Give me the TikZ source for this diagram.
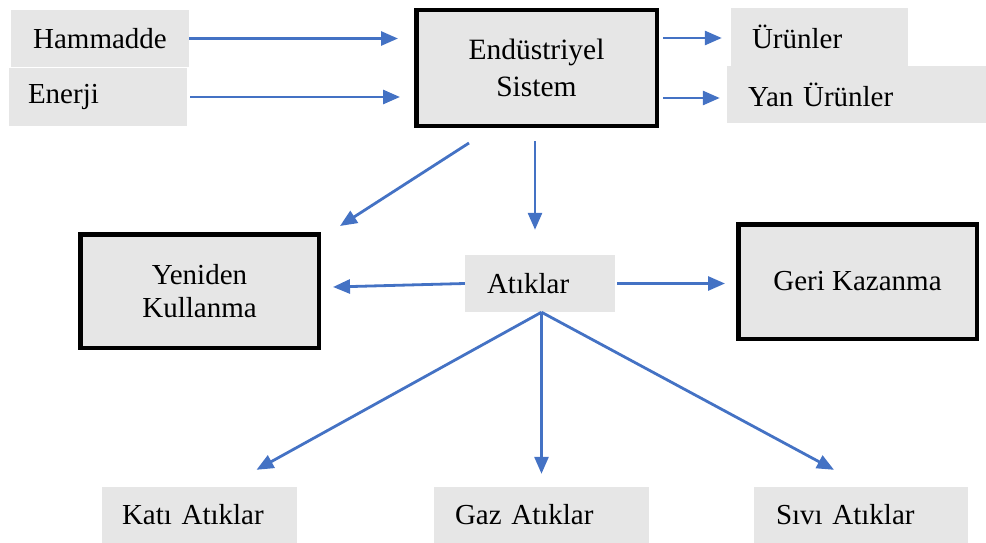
\documentclass[tikz,border=0pt]{standalone}
\usepackage{fontspec}
\setmainfont{Liberation Serif}
\usetikzlibrary{arrows.meta,calc}
\definecolor{boxgray}{RGB}{230,230,230}
\definecolor{arrblue}{RGB}{68,114,196}
\begin{document}
\begin{tikzpicture}[x=1pt,y=-1pt,
  font=\fontsize{29}{33}\selectfont,
  plainbox/.style={fill=boxgray,draw=none,inner sep=0pt,inner xsep=21pt,align=left,anchor=center},
  thickbox/.style={fill=boxgray,draw=black,line width=4.5pt,inner sep=0pt,align=center,anchor=center},
  arr/.style={draw=arrblue,line width=2.8pt,-{Triangle[length=17pt,width=14pt]}}
]
\useasboundingbox (0,0) rectangle (986,543);
% plain boxes
\node[plainbox,text width=136pt,minimum height=57pt,align=center] (ham) at (100,38.5) {Hammadde};
\node[plainbox,inner xsep=19pt,text width=140pt,minimum height=58pt] (ene) at (98,97) {Enerji};
\node[plainbox,text width=135pt,minimum height=58pt] (urun) at (819.5,37) {Ürünler};
\node[plainbox,text width=217pt,minimum height=57pt] (yan) at (856.5,94.5) {Yan Ürünler};
\node[plainbox,inner xsep=22pt,text width=106pt,minimum height=57pt] (atik) at (540,283.5) {Atıklar};
\node[plainbox,inner xsep=20pt,text width=155pt,minimum height=56pt] (kat) at (199.5,515) {Katı Atıklar};
\node[plainbox,text width=173pt,minimum height=56pt] (gaz) at (541.5,515) {Gaz Atıklar};
\node[plainbox,inner xsep=22pt,text width=170pt,minimum height=56pt] (siv) at (861,515) {Sıvı Atıklar};
% thick boxes
\node[thickbox,minimum width=240.5pt,minimum height=115.5pt,font=\fontsize{29.5}{37}\selectfont] (end) at (536.5,68) {Endüstriyel\\Sistem};
\node[thickbox,minimum width=238.5pt,minimum height=113.5pt] (yen) at (199.5,291) {Yeniden\\Kullanma};
\node[thickbox,minimum width=238.5pt,minimum height=114.5pt] (geri) at (857.5,281.5) {Geri Kazanma};
% connectors
\draw[arr,shorten >=16pt] (ham.east) -- (ham.east -| end.west);
\draw[arr,shorten <=3pt,shorten >=14pt] (ene.east) -- (ene.east -| end.west);
\draw[arr,shorten <=4pt,shorten >=9pt] ($(urun.west -| end.east)+(0,1)$) -- ($(urun.west)+(0,1)$);
\draw[arr,shorten <=4pt,shorten >=7pt] ($(yan.west -| end.east)+(0,3.5)$) -- ($(yan.west)+(0,3.5)$);
\draw[arr] ($(end.south)+(-67.5,15)$) -- ($(yen.north east)+(19,-6)$);
\draw[arr] ($(end.south)+(-1.5,13)$) -- ($(atik.north)+(-5,-25)$);
\draw[arr] (atik.west) -- ($(yen.east)+(12,-4)$);
\draw[arr,shorten <=2pt,shorten >=11pt] (atik.east) -- (atik.east -| geri.west);
\draw[arr] ($(atik.south)+(1.5,0)$) -- ($(kat.north)+(57,-17)$);
\draw[arr] ($(atik.south)+(1.5,0)$) -- ($(gaz.north)+(0,-13)$);
\draw[arr] ($(atik.south)+(1.5,0)$) -- ($(siv.north)+(-27,-17)$);
\end{tikzpicture}
\end{document}
